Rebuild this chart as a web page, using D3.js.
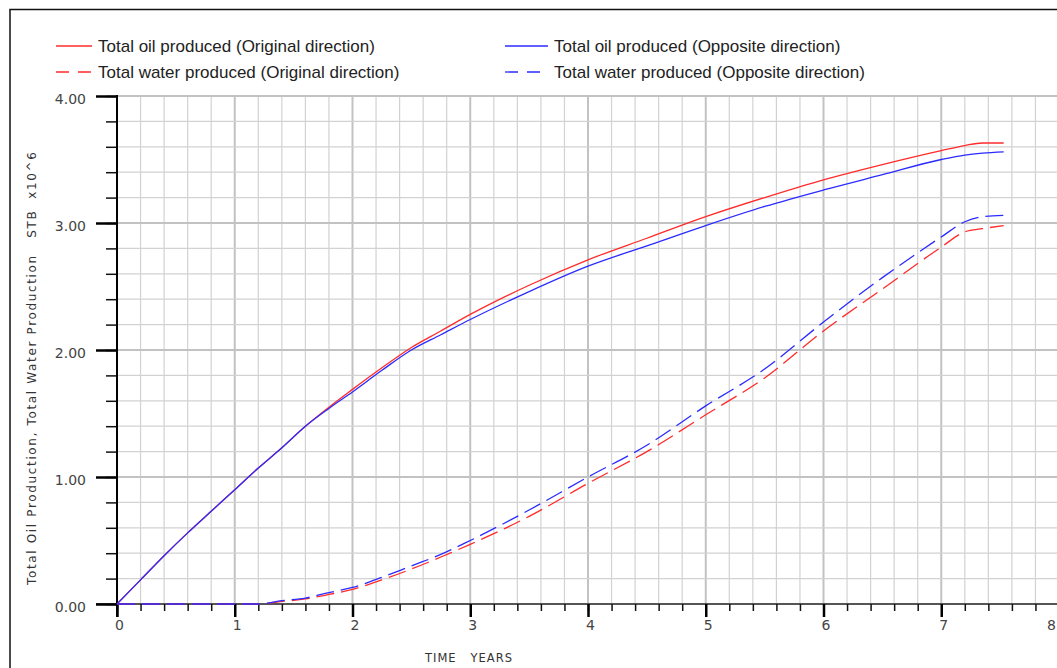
<!DOCTYPE html>
<html>
<head>
<meta charset="utf-8">
<script src="https://cdnjs.cloudflare.com/ajax/libs/d3/7.8.5/d3.min.js"></script>
<style>
    body { margin: 0; background: #fff; }
    svg { display: block; }
</style>
</head>
<body>
<div id="container"></div>
<script>
// Data (time in years, production in STB x10^6)
var years = [0, 0.2, 0.4, 0.6, 0.8, 1.0, 1.2, 1.4, 1.6, 1.8, 2.0, 2.25, 2.5, 2.75,
    3.0, 3.5, 4.0, 4.5, 5.0, 5.5, 6.0, 6.5, 7.0, 7.2, 7.35, 7.53];

var oilOriginal = [0, 0.19, 0.38, 0.56, 0.73, 0.90, 1.07, 1.23, 1.40, 1.55, 1.69, 1.86, 2.02, 2.15,
    2.28, 2.51, 2.71, 2.88, 3.05, 3.20, 3.34, 3.46, 3.57, 3.61, 3.63, 3.63];
var oilOpposite = [0, 0.19, 0.38, 0.56, 0.73, 0.90, 1.07, 1.23, 1.40, 1.54, 1.67, 1.84, 2.00, 2.12,
    2.24, 2.46, 2.66, 2.82, 2.98, 3.13, 3.26, 3.38, 3.50, 3.535, 3.55, 3.56];
var waterOriginal = [0, 0, 0, 0, 0, 0, 0, 0.02, 0.04, 0.075, 0.115, 0.19, 0.275, 0.37,
    0.47, 0.69, 0.95, 1.20, 1.49, 1.78, 2.15, 2.48, 2.81, 2.93, 2.955, 2.98];
var waterOpposite = [0, 0, 0, 0, 0, 0, 0, 0.026, 0.047, 0.09, 0.13, 0.21, 0.30, 0.39,
    0.50, 0.74, 1.00, 1.25, 1.56, 1.85, 2.22, 2.57, 2.89, 3.01, 3.05, 3.06];

var xTicks = [0, 1, 2, 3, 4, 5, 6, 7, 8];
var yTicks = [0, 1, 2, 3, 4];
var yTickLabels = ['0.00', '1.00', '2.00', '3.00', '4.00'];

var seriesNames = ['Total oil produced (Original direction)', 'Total oil produced (Opposite direction)',
    'Total water produced (Original direction)', 'Total water produced (Opposite direction)'];

// Basic parameters
var WIDTH = 1057,
    HEIGHT = 668;

var RED = '#ff2b2b',
    BLUE = '#2b2bff';

var svg = d3.select('#container')
    .append('svg')
    .attr('width', WIDTH)
    .attr('height', HEIGHT);

var x = d3.scaleLinear().domain([0, 8]).range([117, 1059]);
var y = d3.scaleLinear().domain([0, 4]).range([604, 96]);

// outer frame (only top and left edges show in the window)
svg.append('path')
    .attr('d', 'M10,' + HEIGHT + 'V9.5H' + WIDTH)
    .attr('fill', 'none')
    .attr('stroke', '#111')
    .attr('stroke-width', 1.5);

// grid
var minorX = d3.range(0, 8.001, 0.2),
    minorY = d3.range(0, 4.001, 0.2);

var isMajor = function(d) { return Math.abs(d - Math.round(d)) < 1e-6; };

var grid = svg.append('g');

grid.selectAll('.vgrid')
    .data(minorX)
    .enter()
    .append('line')
    .attr('x1', function(d) { return x(d); })
    .attr('x2', function(d) { return x(d); })
    .attr('y1', y(4))
    .attr('y2', y(0))
    .attr('stroke', function(d) { return isMajor(d) ? '#c2c2c2' : '#d2d2d2'; })
    .attr('stroke-width', function(d) { return isMajor(d) ? 2 : 1.2; });

grid.selectAll('.hgrid')
    .data(minorY)
    .enter()
    .append('line')
    .attr('x1', x(0))
    .attr('x2', WIDTH)
    .attr('y1', function(d) { return y(d); })
    .attr('y2', function(d) { return y(d); })
    .attr('stroke', function(d) { return isMajor(d) ? '#c2c2c2' : '#d2d2d2'; })
    .attr('stroke-width', function(d) { return isMajor(d) ? 2 : 1.2; });

// x axis
svg.append('line')
    .attr('x1', 96).attr('x2', WIDTH)
    .attr('y1', y(0)).attr('y2', y(0))
    .attr('stroke', '#555')
    .attr('stroke-width', 2);

var xMinor = svg.append('g')
    .attr('transform', 'translate(0,' + y(0) + ')')
    .call(d3.axisBottom(x).tickValues(minorX).tickSize(7).tickFormat(''));
xMinor.select('.domain').remove();
xMinor.selectAll('line').attr('stroke', '#111').attr('stroke-width', 1.5);

var xMajor = svg.append('g')
    .attr('transform', 'translate(0,' + y(0) + ')')
    .call(d3.axisBottom(x).tickValues(xTicks).tickSize(13).tickPadding(3).tickFormat(d3.format('d')));
xMajor.select('.domain').remove();
xMajor.selectAll('line').attr('stroke', '#000').attr('stroke-width', 2.5);
xMajor.selectAll('text')
    .attr('dx', function(d) { return d === 8 ? -8 : 2; })
    .attr('fill', '#444')
    .style('font-family', 'DejaVu Sans')
    .style('font-size', '14px');

// y axis
var yMinor = svg.append('g')
    .attr('transform', 'translate(' + x(0) + ',0)')
    .call(d3.axisLeft(y).tickValues(minorY).tickSize(11).tickFormat(''));
yMinor.select('.domain').remove();
yMinor.selectAll('line').attr('stroke', '#111').attr('stroke-width', 1.5);

var yMajor = svg.append('g')
    .attr('transform', 'translate(' + x(0) + ',0)')
    .call(d3.axisLeft(y).tickValues(yTicks).tickSize(21).tickPadding(10)
        .tickFormat(function(d, i) { return yTickLabels[i]; }));
yMajor.select('.domain').remove();
yMajor.selectAll('line').attr('stroke', '#000').attr('stroke-width', 2.5);
yMajor.selectAll('text')
    .attr('dy', '0.5em')
    .attr('fill', '#444')
    .style('font-family', 'DejaVu Sans')
    .style('font-size', '14px');

svg.append('line')
    .attr('x1', x(0)).attr('x2', x(0))
    .attr('y1', y(4) - 1).attr('y2', y(0) + 13)
    .attr('stroke', '#000')
    .attr('stroke-width', 2);

// axis titles
svg.append('text')
    .attr('x', 425)
    .attr('y', 662)
    .attr('fill', '#333')
    .style('font-family', 'DejaVu Sans')
    .style('font-size', '11.5px')
    .style('letter-spacing', '1px')
    .style('white-space', 'pre')
    .text('TIME   YEARS');

svg.append('text')
    .attr('transform', 'translate(36,585) rotate(-90)')
    .attr('fill', '#333')
    .style('font-family', 'DejaVu Sans')
    .style('font-size', '12px')
    .style('letter-spacing', '1.65px')
    .style('white-space', 'pre')
    .text('Total Oil Production, Total Water Production   STB  x10^6');

// curves
var line = d3.line()
    .curve(d3.curveMonotoneX)
    .x(function(d) { return x(d[0]); })
    .y(function(d) { return y(d[1]); });

var series = [
    { values: oilOriginal, color: RED, dash: null },
    { values: oilOpposite, color: BLUE, dash: null },
    { values: waterOriginal, color: RED, dash: '18,7' },
    { values: waterOpposite, color: BLUE, dash: '18,7' }
];

svg.selectAll('.curve')
    .data(series)
    .enter()
    .append('path')
    .attr('class', 'curve')
    .attr('d', function(s) { return line(d3.zip(years, s.values)); })
    .attr('fill', 'none')
    .attr('stroke', function(s) { return s.color; })
    .attr('stroke-width', 1.3)
    .attr('stroke-dasharray', function(s) { return s.dash; });

// legend
var legendPos = [[56, 46], [505, 46], [56, 72], [505, 72]];

var legend = svg.selectAll('.legend')
    .data(series)
    .enter()
    .append('g')
    .attr('class', 'legend')
    .attr('transform', function(d, i) { return 'translate(' + legendPos[i][0] + ',' + legendPos[i][1] + ')'; });

legend.append('line')
    .attr('x1', 0).attr('x2', function(d, i) { return i % 2 ? 43 : 36; })
    .attr('y1', 0).attr('y2', 0)
    .attr('stroke', function(s) { return s.color; })
    .attr('stroke-width', 1.3)
    .attr('stroke-dasharray', function(s) { return s.dash ? '13,9' : null; });

legend.append('text')
    .attr('x', function(d, i) { return i % 2 ? 49 : 42; })
    .attr('y', 6)
    .attr('fill', '#222')
    .style('font-family', 'Liberation Sans, Arial')
    .style('font-size', '17px')
    .text(function(d, i) { return seriesNames[i]; });
</script>
</body>
</html>
